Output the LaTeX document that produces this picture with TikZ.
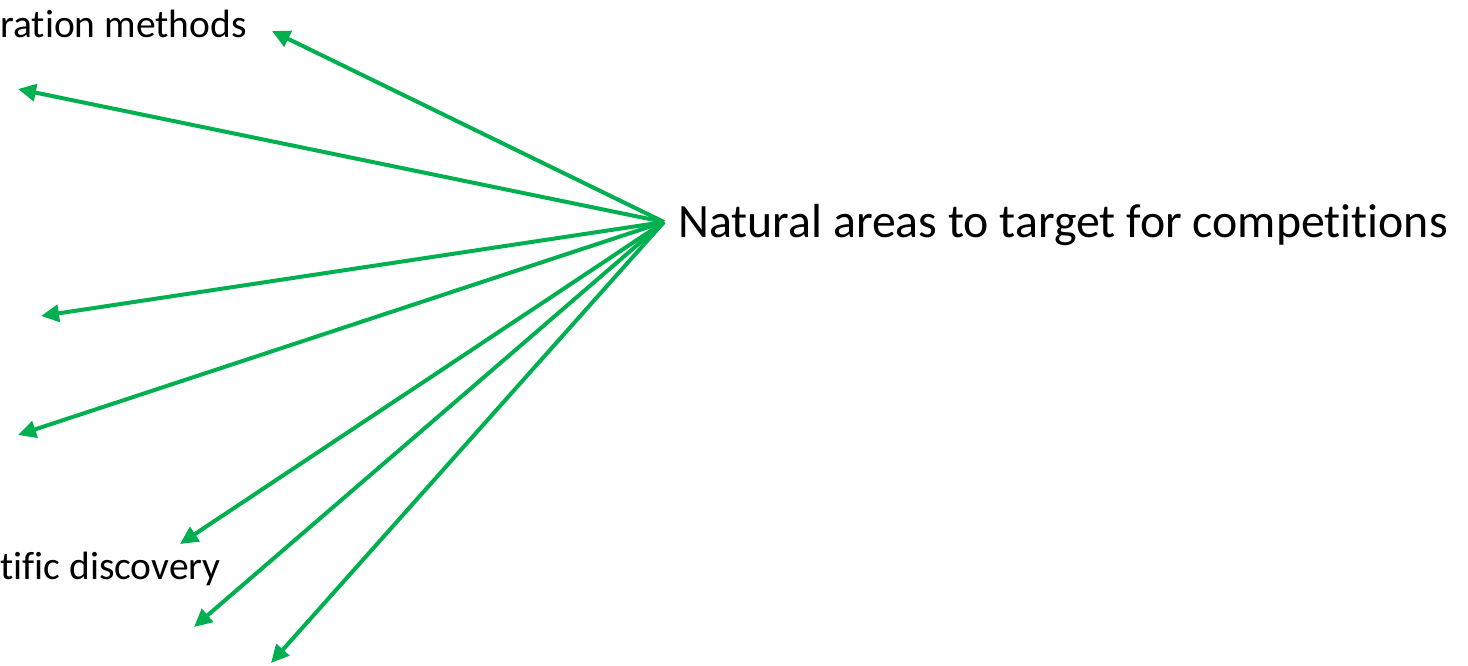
\documentclass[tikz,border=0pt]{standalone}
\usepackage{fontspec}
\setmainfont[Ligatures={NoCommon,NoRequired,NoContextual}]{Carlito}
\usetikzlibrary{arrows.meta}
\definecolor{arrgreen}{RGB}{0,176,80}
\tikzset{
  conn/.style={draw=arrgreen, line width=2pt, -{Triangle[length=9pt,width=8.5pt]}},
  smalltext/.style={inner sep=0pt, font=\fontsize{19.75}{24}\selectfont},
  bigtext/.style={inner sep=0pt, font=\fontsize{23.9}{28}\selectfont}
}
\begin{document}
\begin{tikzpicture}[x=0.5pt,y=-0.5pt]
\useasboundingbox (0,0) rectangle (1468,665);
\coordinate (hub) at (664,222);
\node[bigtext, anchor=base west] (main) at (678,237) {Natural areas to target for competitions};
\node[smalltext, anchor=base east] (ta) at (247,37) {ration methods};
\node[smalltext, anchor=base east] (tb) at (221,579) {tific discovery};
\coordinate (e1) at (272,31);
\coordinate (e2) at (18,89);
\coordinate (e3) at (41,316);
\coordinate (e4) at (18,435);
\coordinate (e5) at (180,544);
\coordinate (e6) at (194,627);
\coordinate (e7) at (271,663);
\foreach \e in {e1,e2,e3,e4,e5,e6,e7} \draw[conn] (hub) -- (\e);
\end{tikzpicture}
\end{document}
